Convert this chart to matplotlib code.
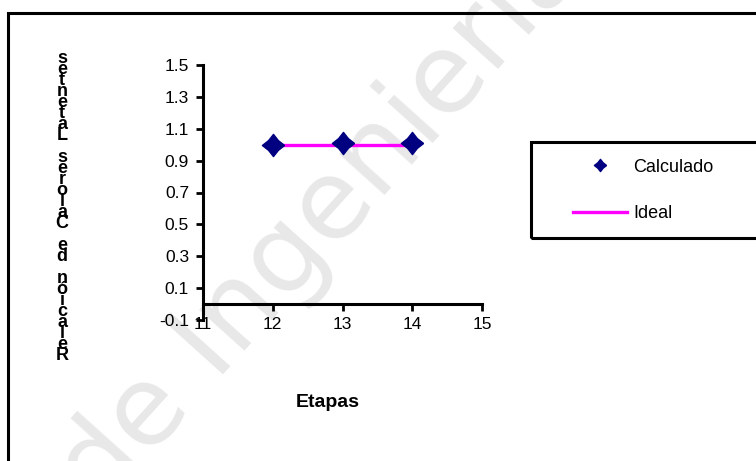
import matplotlib
matplotlib.use("Agg")
import matplotlib.pyplot as plt
from matplotlib.patches import Rectangle

plt.rcParams["font.family"] = ["Liberation Sans", "DejaVu Sans"]

# Data
etapas = [12, 13, 14]
calculado = [1.00, 1.01, 1.01]
ideal = [1.00, 1.00, 1.00]
x_ticks = [11, 12, 13, 14, 15]
y_ticks = [-0.1, 0.1, 0.3, 0.5, 0.7, 0.9, 1.1, 1.3, 1.5]
x_label = "Etapas"
y_label = "Relación de Calores Latentes"
series_names = ["Calculado", "Ideal"]
watermark = "de Ingeniería"

W, H = 756, 461
fig = plt.figure(figsize=(W / 100, H / 100), dpi=100)


def fx(px):
    return px / W


def fy(py):
    return 1 - py / H


# Faint diagonal watermark behind everything
fig.text(fx(100), fy(512), watermark, rotation=48, rotation_mode="anchor",
         ha="left", va="baseline", fontsize=80, color="#e8e8e8",
         family="DejaVu Sans", zorder=-5)

# Outer chart border (runs off the right and bottom edges)
fig.add_artist(Rectangle((fx(8), fy(480)), 1.2, fy(13) - fy(480),
                         transform=fig.transFigure, fill=False,
                         ec="black", lw=2.2, clip_on=False))

ax = fig.add_axes([fx(203), fy(320), fx(482) - fx(203), fy(65) - fy(320)])
ax.patch.set_visible(False)

# Star-like diamond marker
diamond = [(1, 0), (0.44, 0.44), (0, 1), (-0.44, 0.44), (-1, 0),
           (-0.44, -0.44), (0, -1), (0.44, -0.44), (1, 0)]

l_ideal, = ax.plot(etapas, ideal, color="#ff00ff", lw=2.4, zorder=2,
                   label=series_names[1])
l_calc, = ax.plot(etapas, calculado, linestyle="none", marker=diamond,
                  markersize=16, color="#000080", zorder=3,
                  label=series_names[0])

ax.set_xlim(11, 15)
ax.set_ylim(-0.1, 1.5)
ax.set_xticks(x_ticks)
ax.set_yticks(y_ticks)
ax.set_xticklabels([str(t) for t in x_ticks])
ax.set_yticklabels([f"{t:.1f}" for t in y_ticks])

for side in ("top", "right"):
    ax.spines[side].set_visible(False)
ax.spines["bottom"].set_position(("data", 0))
for side in ("left", "bottom"):
    ax.spines[side].set_linewidth(2.2)
    ax.spines[side].set_color("black")

ax.tick_params(axis="both", direction="out", length=5, width=2.0,
               labelsize=12.5, color="black")
ax.tick_params(axis="x", pad=4)
ax.tick_params(axis="y", pad=5)

ax.set_xlabel(x_label, fontsize=14, fontweight="bold", va="top")
ax.xaxis.set_label_coords(0.448, -0.29)

ax.set_ylabel("\n".join(reversed(y_label)), rotation=0, fontsize=13,
              fontweight="bold", ha="center", va="center",
              multialignment="center", linespacing=0.54)
ax.yaxis.set_label_coords(-0.505, 0.443)

# Legend box and entries
fig.add_artist(Rectangle((fx(531), fy(238)), 0.5, fy(142) - fy(238),
                         transform=fig.transFigure, fill=False,
                         ec="black", lw=2.2, clip_on=False))
ax.legend(handles=[l_calc, l_ideal], loc="center left",
          bbox_to_anchor=(fx(573), fy(190.5)), bbox_transform=fig.transFigure,
          frameon=False, borderpad=0, borderaxespad=0, handlelength=3.0,
          handletextpad=0.35, labelspacing=1.65, markerscale=0.55,
          fontsize=13)

fig.savefig("out.png", dpi=100)
